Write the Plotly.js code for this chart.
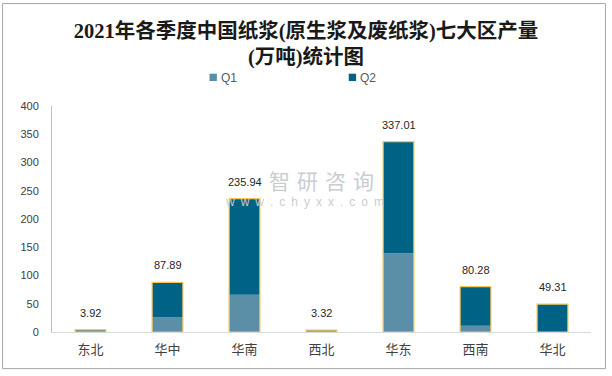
<!DOCTYPE html>
<html>
<head>
<meta charset="utf-8">
<script src="https://cdn.plot.ly/plotly-3.0.1.min.js"></script>
<style>html,body{margin:0;padding:0;background:#fff;}#chart{width:612px;height:376px;}</style>
</head>
<body>
<div id="chart"></div>
<script>
const regions = ["东北", "华中", "华南", "西北", "华东", "西南", "华北"];
const q1Values = [1.9, 26.5, 65.8, 1.6, 139.5, 11.1, 0];
const totalValues = [3.92, 87.89, 235.94, 3.32, 337.01, 80.28, 49.31];
const q2Values = totalValues.map((t, i) => +(t - q1Values[i]).toFixed(2));
const yTicks = [0, 50, 100, 150, 200, 250, 300, 350, 400];
const seriesNames = ["Q1", "Q2"];
const seriesColors = ["#5b8fa7", "#006284"];

const FONT = '"Liberation Sans", "Noto Sans CJK SC", sans-serif';

// plot area geometry (pixels)
const PL = 51.5, PR = 591.5, PT = 105.7, PB = 332.3;
const PW = PR - PL, PH = PB - PT;
const px = x => (x - PL) / PW;
const py = y => (PB - y) / PH;

const traces = [
  {
    type: 'bar', name: seriesNames[0], x: regions, y: q1Values,
    marker: {color: seriesColors[0], line: {width: 0}},
    hoverinfo: 'skip', showlegend: false
  },
  {
    type: 'bar', name: seriesNames[1], x: regions, y: q2Values, base: q1Values,
    marker: {color: seriesColors[1], line: {width: 0}},
    hoverinfo: 'skip', showlegend: false
  },
  {
    type: 'bar', name: '合计', x: regions, y: totalValues, showlegend: false,
    marker: {color: 'rgba(0,0,0,0)', line: {color: '#f5c75a', width: 1.2}},
    hoverinfo: 'skip'
  }
];

const annotations = regions.map((r, i) => ({
  x: r, y: totalValues[i], xref: 'x', yref: 'y',
  text: totalValues[i].toFixed(2), showarrow: false,
  yanchor: 'middle', yshift: 17,
  font: {family: FONT, size: 11, color: '#262626'}
}));

// watermark
const SP3 = '\u2004', SP2 = '\u2002';
annotations.push({
  xref: 'paper', yref: 'paper', x: px(322), y: py(179.5), xanchor: 'center', yanchor: 'middle',
  text: ['智', '研', '咨', '询'].join(SP3), showarrow: false,
  font: {family: '"Noto Sans CJK SC", sans-serif', size: 21, color: '#c9cdd2'}
});
annotations.push({
  xref: 'paper', yref: 'paper', x: px(304), y: py(202), xanchor: 'center', yanchor: 'middle',
  text: 'www.chyxx.com'.split('').join(SP2), showarrow: false,
  font: {family: FONT, size: 12, color: '#c9cdd2'}
});

// legend (manual, to match the compact square + label look)
const legendX = [209.3, 348.8];
const shapes = [{
  type: 'rect', xref: 'paper', yref: 'paper',
  x0: px(2), x1: px(606), y0: py(369), y1: py(3),
  line: {color: '#a6a6a6', width: 1}, fillcolor: 'rgba(0,0,0,0)', layer: 'below'
}];
seriesNames.forEach((n, i) => {
  shapes.push({
    type: 'rect', xref: 'paper', yref: 'paper',
    x0: px(legendX[i]), x1: px(legendX[i] + 7.4), y0: py(80.7), y1: py(73.3),
    line: {width: 0}, fillcolor: seriesColors[i]
  });
  annotations.push({
    xref: 'paper', yref: 'paper', x: px(legendX[i] + 9.5), y: py(77.2),
    xanchor: 'left', yanchor: 'middle', text: n, showarrow: false,
    font: {family: FONT, size: 12, color: '#595959'}
  });
});

const layout = {
  width: 612, height: 376,
  margin: {l: PL, r: 612 - PR, t: PT, b: 376 - PB},
  paper_bgcolor: '#ffffff', plot_bgcolor: '#ffffff',
  barmode: 'overlay', bargap: 0.6,
  title: {
    text: '2021年各季度中国纸浆(原生浆及废纸浆)七大区产量<br>(万吨)统计图',
    x: 0.5, xref: 'container', y: 0.9, yref: 'container', yanchor: 'top',
    font: {family: '"Liberation Serif", "Noto Sans CJK SC", serif', size: 20.5, color: '#1a1a1a', weight: 'bold'}
  },
  showlegend: false,
  xaxis: {
    type: 'category', showline: true, linecolor: '#d9d9d9', linewidth: 1,
    ticks: '', showgrid: false, zeroline: false, fixedrange: true,
    tickfont: {family: '"Noto Sans CJK SC", sans-serif', size: 13, color: '#404040'},
    ticklabelstandoff: 5
  },
  yaxis: {
    range: [0, 400], tickvals: yTicks, ticktext: yTicks.map(String),
    showline: true, linecolor: '#bfbfbf', linewidth: 1,
    ticks: '', showgrid: false, zeroline: false, fixedrange: true,
    tickfont: {family: FONT, size: 11, color: '#404040'},
    ticklabelstandoff: 10
  },
  shapes: shapes,
  annotations: annotations
};

Plotly.newPlot('chart', traces, layout, {displayModeBar: false, staticPlot: true});
</script>
</body>
</html>
